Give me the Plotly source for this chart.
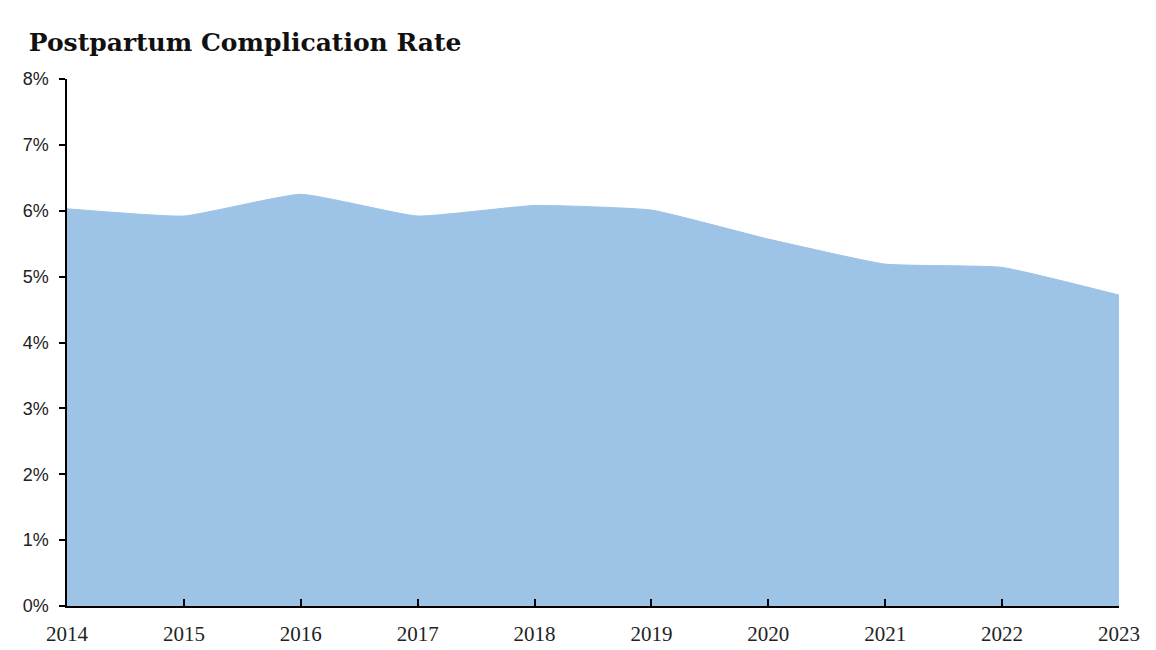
import plotly.graph_objects as go

years = [2014, 2015, 2016, 2017, 2018, 2019, 2020, 2021, 2022, 2023]
rates = [0.0603, 0.0592, 0.0625, 0.0592, 0.0608, 0.0601, 0.0557, 0.0519, 0.0514, 0.0472]
y_ticks = [0, 0.01, 0.02, 0.03, 0.04, 0.05, 0.06, 0.07, 0.08]
y_tick_labels = ["0%", "1%", "2%", "3%", "4%", "5%", "6%", "7%", "8%"]

fig = go.Figure()
fig.add_trace(go.Scatter(
    x=years, y=rates, mode="lines", fill="tozeroy",
    line=dict(color="#9dc3e6", width=1, shape="spline", smoothing=0.4),
    fillcolor="#9dc3e6", hoverinfo="x+y", showlegend=False,
))

fig.update_layout(
    width=1156, height=650,
    paper_bgcolor="white", plot_bgcolor="white",
    margin=dict(l=59, r=45, t=71, b=52),
    title=dict(text="<b>Postpartum Complication Rate</b>", x=0.018, xanchor="left", xref="container",
               y=0.948, yanchor="middle",
               font=dict(family="DejaVu Serif, serif", size=25, color="#111111")),
    xaxis=dict(range=[2014, 2023], tickmode="array", tickvals=years,
               ticktext=[str(y) for y in years],
               showgrid=False, zeroline=False, showline=True, linecolor="black", linewidth=1.5,
               ticks="inside", ticklen=7, tickwidth=1.5, tickcolor="black", ticklabelstandoff=8,
               tickfont=dict(family="Liberation Serif, DejaVu Serif, serif", size=21, color="#222222")),
    yaxis=dict(range=[0, 0.08], tickmode="array", tickvals=y_ticks, ticktext=y_tick_labels,
               showgrid=False, zeroline=False, showline=True, linecolor="black", linewidth=1.5,
               ticks="outside", ticklen=6, tickwidth=1.5, tickcolor="black", ticklabelstandoff=7,
               tickfont=dict(family="Liberation Sans, Arial, sans-serif", size=18, color="#222222")),
)

fig.write_html("out.html")
